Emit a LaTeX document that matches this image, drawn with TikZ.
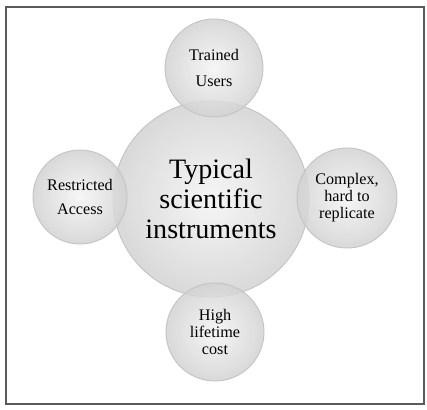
\documentclass[tikz,border=0pt]{standalone}
\usepackage{fontspec}
\setmainfont{Liberation Serif}
\usepackage{tikz}
\usetikzlibrary{positioning}
\definecolor{frame}{HTML}{5A5A5A}
\definecolor{rim}{HTML}{C4C4C4}
\definecolor{glow}{HTML}{F4F4F4}
\definecolor{shadow}{HTML}{D2D2D2}

\begin{document}
\begin{tikzpicture}[
    every node/.style={font=\rmfamily},
    hub/.style={circle, draw=rim, line width=0.8pt, inner color=glow, outer color=shadow, fill opacity=0.85, text opacity=1, minimum size=5.88cm, align=center, font=\fontsize{24}{25.5}\selectfont},
    satellite/.style={circle, draw=rim, line width=0.8pt, inner color=glow, outer color=shadow, fill opacity=0.85, text opacity=1, minimum size=2.94cm, align=center, font=\fontsize{13.8}{14.5}\selectfont},
    border/.style={draw=frame, line width=1.4pt}
]
\useasboundingbox (0,0) rectangle (12.81,12.30);
\draw[border] (0.18,0.18) rectangle (12.72,12.09);

% --- Centre ---
\node[hub] (core) at (6.33,6.33) {Typical\\scientific\\instruments};

% --- Satellites ---
\node[satellite] (users) at (6.42,10.26) {Trained\\[7.5pt]Users};
\node[satellite, minimum size=2.82cm] (access) at (2.40,6.39) {Restricted\\[6pt]Access};
\node[satellite, minimum size=3.0cm] (complex) at (10.41,6.36) {Complex,\\hard to\\replicate};
\node[satellite] (cost) at (6.45,2.34) {High\\lifetime\\cost};
\end{tikzpicture}
\end{document}
